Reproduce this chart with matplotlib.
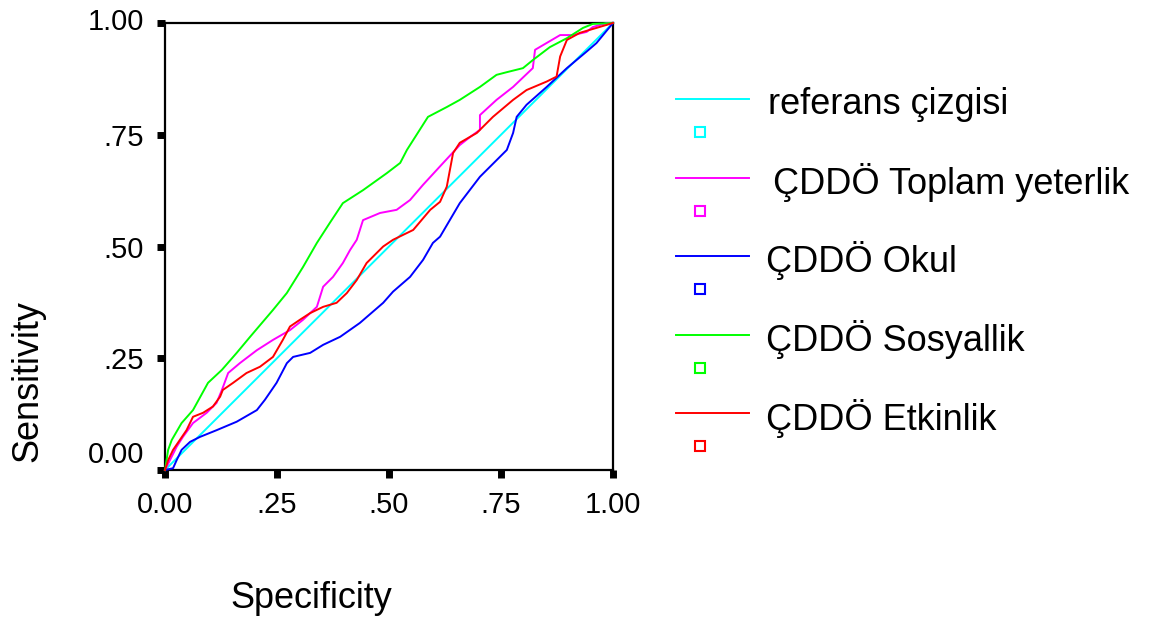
#!/usr/bin/env python3
"""ROC curves for the CDDO subscales, redrawn from an SPSS-style chart."""

import matplotlib
matplotlib.use("Agg")
import matplotlib.pyplot as plt
import matplotlib.transforms as mtransforms
from matplotlib.ticker import FixedLocator, FixedFormatter

plt.rcParams["font.family"] = ["Liberation Sans", "DejaVu Sans"]

TICKS = [0.0, 0.25, 0.5, 0.75, 1.0]
TICK_LABELS = ["0.00", ".25", ".50", ".75", "1.00"]

REF_X = [0.0, 1.0]
REF_Y = [0.0, 1.0]

TOPLAM_X = [0, 0.011, 0.026, 0.04, 0.0625, 0.093, 0.115, 0.127, 0.141, 0.167,
            0.205, 0.241, 0.279, 0.308, 0.339, 0.353, 0.375, 0.397, 0.413,
            0.428, 0.442, 0.48, 0.517, 0.547, 0.576, 0.621, 0.658, 0.681,
            0.703, 0.703, 0.74, 0.777, 0.821, 0.826, 0.882, 0.911, 0.941,
            0.955, 0.986, 1.0]
TOPLAM_Y = [0, 0.022, 0.052, 0.074, 0.105, 0.128, 0.15, 0.179, 0.217, 0.239,
            0.268, 0.291, 0.313, 0.336, 0.365, 0.41, 0.432, 0.463, 0.492,
            0.515, 0.559, 0.575, 0.582, 0.604, 0.638, 0.687, 0.727, 0.745,
            0.761, 0.794, 0.828, 0.857, 0.899, 0.94, 0.973, 0.973, 0.98,
            0.991, 1.0, 1.0]

OKUL_X = [0, 0.018, 0.026, 0.037, 0.056, 0.078, 0.115, 0.16, 0.205, 0.223,
          0.249, 0.272, 0.286, 0.324, 0.353, 0.391, 0.435, 0.487, 0.509,
          0.547, 0.576, 0.598, 0.614, 0.658, 0.703, 0.763, 0.777, 0.785,
          0.807, 0.852, 0.897, 0.941, 0.963, 1.0]
OKUL_Y = [0, 0.004, 0.022, 0.045, 0.063, 0.074, 0.089, 0.108, 0.134, 0.157,
          0.195, 0.239, 0.253, 0.262, 0.28, 0.298, 0.329, 0.374, 0.399,
          0.432, 0.47, 0.508, 0.522, 0.597, 0.656, 0.716, 0.754, 0.79,
          0.817, 0.857, 0.899, 0.936, 0.955, 1.0]

SOSYAL_X = [0, 0.007, 0.015, 0.037, 0.0625, 0.096, 0.127, 0.16, 0.19, 0.241,
            0.272, 0.308, 0.339, 0.368, 0.397, 0.442, 0.495, 0.525, 0.54,
            0.554, 0.587, 0.629, 0.658, 0.703, 0.74, 0.763, 0.799, 0.821,
            0.859, 0.897, 0.933, 0.955, 1.0]
SOSYAL_Y = [0, 0.045, 0.067, 0.105, 0.134, 0.195, 0.224, 0.262, 0.298, 0.358,
            0.396, 0.454, 0.508, 0.553, 0.597, 0.626, 0.664, 0.687, 0.716,
            0.738, 0.79, 0.812, 0.828, 0.857, 0.884, 0.89, 0.899, 0.917,
            0.946, 0.966, 0.989, 0.998, 1.0]

ETKIN_X = [0, 0.007, 0.018, 0.033, 0.048, 0.0625, 0.085, 0.107, 0.123, 0.129,
           0.152, 0.182, 0.212, 0.241, 0.263, 0.279, 0.301, 0.324, 0.353,
           0.383, 0.406, 0.428, 0.45, 0.487, 0.509, 0.554, 0.592, 0.614,
           0.629, 0.643, 0.658, 0.696, 0.732, 0.777, 0.807, 0.852, 0.874,
           0.882, 0.897, 0.926, 0.963, 1.0]
ETKIN_Y = [0, 0.022, 0.045, 0.067, 0.089, 0.119, 0.128, 0.142, 0.164, 0.179,
           0.195, 0.217, 0.231, 0.253, 0.291, 0.321, 0.336, 0.351, 0.365,
           0.374, 0.396, 0.425, 0.463, 0.5, 0.515, 0.537, 0.582, 0.6,
           0.634, 0.709, 0.732, 0.754, 0.79, 0.828, 0.85, 0.869, 0.88,
           0.925, 0.962, 0.978, 0.989, 1.0]

SERIES = [
    ("referans çizgisi", "#00ffff", REF_X, REF_Y),
    ("ÇDDÖ Toplam yeterlik", "#ff00ff", TOPLAM_X, TOPLAM_Y),
    ("ÇDDÖ Okul", "#0000ff", OKUL_X, OKUL_Y),
    ("ÇDDÖ Sosyallik", "#00ff00", SOSYAL_X, SOSYAL_Y),
    ("ÇDDÖ Etkinlik", "#ff0000", ETKIN_X, ETKIN_Y),
]

W, H = 1152, 624
fig = plt.figure(figsize=(W / 100, H / 100), dpi=100)
fig.patch.set_facecolor("white")

# plot area in pixels: x 165..613, y 23..470
ax = fig.add_axes([165 / W, (H - 470) / H, 448 / W, 447 / H])
for label, color, xs, ys in SERIES:
    ax.plot(xs, ys, color=color, lw=1.4, clip_on=False, zorder=3)

ax.set_xlim(0, 1)
ax.set_ylim(0, 1)
for axis in (ax.xaxis, ax.yaxis):
    axis.set_major_locator(FixedLocator(TICKS))
    axis.set_major_formatter(FixedFormatter(TICK_LABELS))
ax.tick_params(direction="out", length=6, width=5, color="black",
               labelsize=21, pad=9, top=False, right=False)
for side in ax.spines:
    ax.spines[side].set_linewidth(1.6)
    ax.spines[side].set_color("black")

# SPSS nudges the end labels of the y axis upward
fig.canvas.draw()
ylabels = ax.get_yticklabels()
for lbl, dy in ((ylabels[0], 18), (ylabels[-1], 4)):
    lbl.set_transform(lbl.get_transform() +
                      mtransforms.ScaledTranslation(0, dy / 100, fig.dpi_scale_trans))

fig.text(311 / W, 1 - 598 / H, "Specificity", fontsize=26,
         ha="center", va="center")
fig.text(28 / W, 1 - 381 / H, "Sensitivity", fontsize=26,
         ha="center", va="center", rotation=90)

# legend drawn in a pixel-space overlay
lax = fig.add_axes([0, 0, 1, 1], facecolor="none")
lax.set_xlim(0, W)
lax.set_ylim(H, 0)
lax.axis("off")
text_x = [768, 773, 766, 766, 766]
for i, (label, color, _, _) in enumerate(SERIES):
    y = 99 + i * 78.5
    lax.plot([676, 749], [y, y], color=color, lw=1.4)
    lax.plot([700], [y + 33], marker="s", ms=6.5, mfc="white",
             mec=color, mew=1.5)
    lax.text(text_x[i], y + 5, label, fontsize=26, ha="left", va="center")

fig.savefig("out.png", dpi=100)
